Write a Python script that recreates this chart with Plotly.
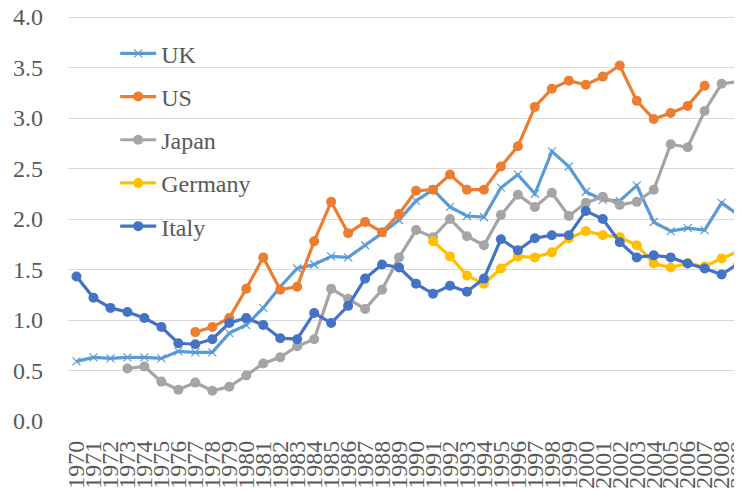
import plotly.graph_objects as go

years = list(range(1970, 2010))
N = None
uk = [0.59, 0.63, 0.62, 0.63, 0.63, 0.62, 0.69, 0.68, 0.68, 0.87,
      0.95, 1.12, 1.33, 1.51, 1.55, 1.63, 1.62, 1.74, 1.86, 1.99,
      2.18, 2.29, 2.12, 2.03, 2.02, 2.31, 2.44, 2.25, 2.67, 2.52,
      2.27, 2.19, 2.18, 2.33, 1.97, 1.88, 1.91, 1.89, 2.16, 2.04]
us = [N, N, N, N, N, N, N, 0.88, 0.93, 1.02,
      1.31, 1.62, 1.30, 1.33, 1.78, 2.17, 1.86, 1.97, 1.87, 2.05,
      2.28, 2.29, 2.44, 2.29, 2.29, 2.52, 2.72, 3.11, 3.29, 3.37,
      3.33, 3.41, 3.52, 3.17, 2.99, 3.05, 3.12, 3.32, N, N]
japan = [N, N, N, 0.52, 0.54, 0.39, 0.31, 0.38, 0.30, 0.34,
         0.45, 0.57, 0.63, 0.74, 0.81, 1.31, 1.21, 1.11, 1.30, 1.62,
         1.89, 1.82, 2.00, 1.83, 1.74, 2.04, 2.24, 2.12, 2.26, 2.03,
         2.16, 2.22, 2.14, 2.17, 2.29, 2.74, 2.71, 3.07, 3.34, 3.36]
germany = [N, N, N, N, N, N, N, N, N, N,
           N, N, N, N, N, N, N, N, N, N,
           N, 1.78, 1.63, 1.44, 1.36, 1.51, 1.63, 1.62, 1.67, 1.81,
           1.88, 1.84, 1.82, 1.74, 1.56, 1.52, 1.56, 1.53, 1.61, 1.68]
italy = [1.43, 1.22, 1.12, 1.08, 1.02, 0.93, 0.77, 0.76, 0.81, 0.97,
         1.02, 0.95, 0.82, 0.81, 1.07, 0.97, 1.14, 1.41, 1.55, 1.52,
         1.36, 1.26, 1.34, 1.28, 1.41, 1.80, 1.69, 1.81, 1.84, 1.84,
         2.08, 2.00, 1.77, 1.62, 1.64, 1.62, 1.56, 1.51, 1.45, 1.56]
ytick_vals = [0.0, 0.5, 1.0, 1.5, 2.0, 2.5, 3.0, 3.5, 4.0]
ytick_text = ["0.0", "0.5", "1.0", "1.5", "2.0", "2.5", "3.0", "3.5", "4.0"]

series = [
    ("UK", uk, "#5B9BD5", "x-thin"),
    ("US", us, "#ED7D31", "circle"),
    ("Japan", japan, "#A5A5A5", "circle"),
    ("Germany", germany, "#FFC000", "circle"),
    ("Italy", italy, "#4472C4", "circle"),
]

FONT = "Liberation Serif"

fig = go.Figure()
for i, (name, vals, color, sym) in enumerate(series):
    marker = dict(symbol=sym, size=10, color=color)
    if sym == "x-thin":
        marker = dict(symbol=sym, size=8, color=color, line=dict(color=color, width=1.2))
    fig.add_trace(go.Scatter(
        x=years, y=vals, name=name, mode="lines+markers",
        line=dict(color=color, width=3.2), marker=marker,
        legendgroup=name, connectgaps=False,
    ))

# The page body has an 8px margin, so the figure is sized to fit the window.
fig.update_layout(
    width=734, height=482,
    margin=dict(l=60, r=0, t=7, b=69),
    paper_bgcolor="white", plot_bgcolor="white",
    font=dict(family=FONT, color="#595959", size=24),
    legend=dict(x=0.07, y=0.96, xanchor="left", yanchor="top",
                bgcolor="rgba(0,0,0,0)", tracegroupgap=9,
                font=dict(family=FONT, size=24, color="#595959"), itemwidth=36),
    showlegend=True,
)
fig.update_xaxes(
    range=[1969.5, 2009.2], tickmode="array", tickvals=years,
    ticktext=[str(y) for y in years], tickangle=-90,
    showgrid=False, zeroline=False, showline=False, ticks="",
    tickfont=dict(family=FONT, size=24, color="#595959"), automargin=False,
    ticklabelstandoff=14, ticklabeloverflow="allow",
)
fig.update_yaxes(
    range=[0, 4.02], tickmode="array", tickvals=ytick_vals, ticktext=ytick_text,
    showgrid=True, gridcolor="#D9D9D9", gridwidth=1.3, zeroline=False,
    showline=False, ticks="", tickfont=dict(family=FONT, size=24, color="#595959"),
    automargin=False, ticklabelstandoff=24, ticklabeloverflow="allow",
)
fig.write_html("out.html")
